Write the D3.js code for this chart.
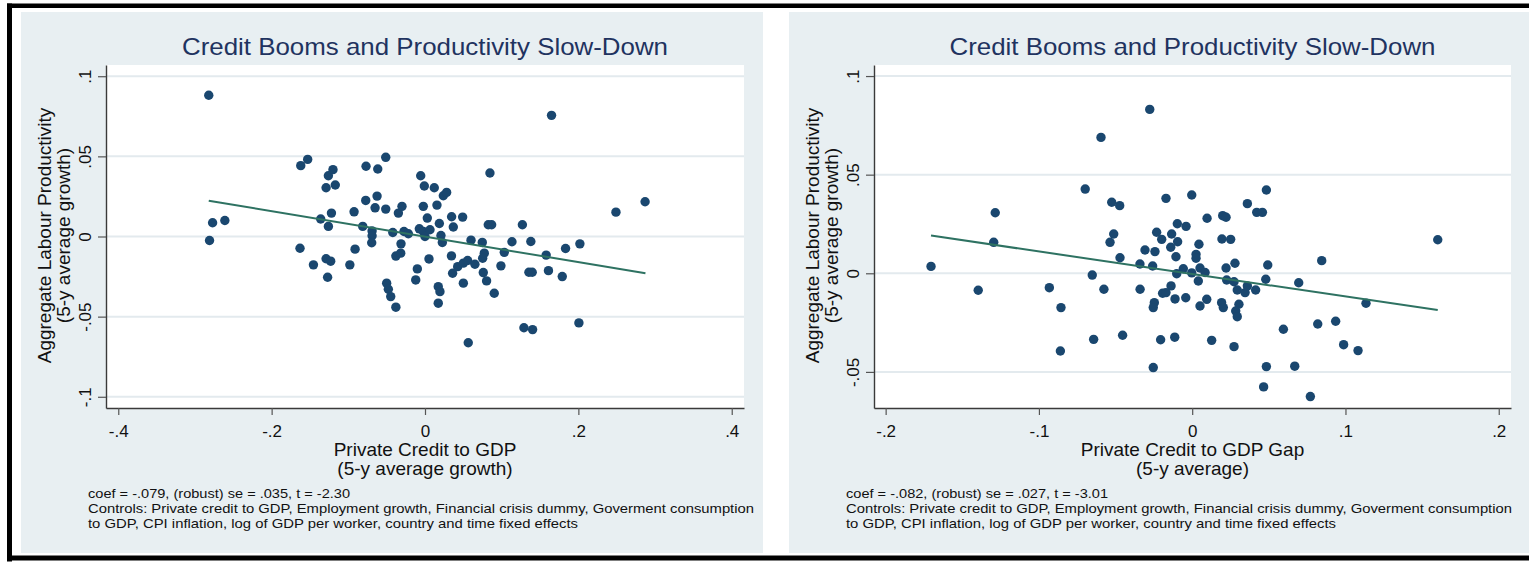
<!DOCTYPE html>
<html>
<head>
<meta charset="utf-8">
<script src="https://cdn.jsdelivr.net/npm/d3@7"></script>
<style>
  html, body { margin: 0; padding: 0; background: #ffffff; }
  svg { display: block; font-family: "Liberation Sans", Arial, sans-serif; }
</style>
</head>
<body>
<svg id="chart" width="1529" height="567"></svg>
<script>
// ---------------- DATA ----------------
const chartTitle = "Credit Booms and Productivity Slow-Down";
const yTitle = ["Aggregate Labour Productivity", "(5-y average growth)"];

// Left panel: Private Credit to GDP (5-y average growth)
const leftX = [-0.282,-0.277,-0.261,-0.281,-0.162,-0.153,-0.126,-0.120,-0.129,-0.117,-0.136,-0.122,-0.126,-0.0925,-0.0769,-0.0616,-0.0512,-0.0773,-0.0651,-0.0625,-0.0512,-0.0812,-0.069,-0.069,-0.0695,-0.042,-0.0347,-0.030,-0.163,-0.0912,-0.129,-0.123,-0.1455,-0.098,-0.038,-0.0317,-0.127,-0.050,-0.0478,-0.0447,-0.038,0.165,-0.0056,-0.0009,0.0121,0.0239,0.0282,0.0847,-0.0022,0.0156,0.003,0.0347,0.0491,0.0369,0.0187,0.0825,0.0869,0.127,0.249,0.287,-0.0274,-0.0217,-0.0074,-0.0022,0.0065,0.0,0.0208,0.0226,0.06,0.0747,0.1134,0.138,0.1833,0.202,0.158,0.1034,0.0773,0.0752,0.0345,0.0052,-0.01,-0.0121,0.0173,0.0195,0.0173,0.036,0.0426,0.05,0.0556,0.0651,0.05,0.076,0.0803,0.0903,0.099,0.1355,0.1398,0.161,0.179,0.129,0.1403,0.2007,0.0564,-0.0313];
const leftY = [0.0881,0.0086,0.0100,-0.0025,0.0442,0.0481,0.0379,0.0417,0.0304,0.0321,0.0109,0.0146,0.0063,0.0154,0.0438,0.0421,0.0494,0.0225,0.0179,0.0252,0.0171,0.0063,0.0035,0.0005,-0.0039,0.0025,0.0146,0.0188,-0.0073,-0.0079,-0.0139,-0.0154,-0.0177,-0.0177,-0.0122,-0.0104,-0.0254,-0.0291,-0.0329,-0.0375,-0.0441,0.0756,0.0379,0.0315,0.0304,0.0254,0.0275,0.0396,0.0188,0.0196,0.0115,0.0123,0.0121,0.0059,0.0081,0.0073,0.0073,0.0073,0.0152,0.0217,0.0031,0.0017,0.0048,0.0031,0.0042,0.0,0.0006,-0.0037,-0.0023,-0.0037,-0.0033,-0.0031,-0.0075,-0.0046,-0.0116,-0.0099,-0.0104,-0.0136,-0.0121,-0.014,-0.0202,-0.0271,-0.0313,-0.0344,-0.0416,-0.0229,-0.0188,-0.0166,-0.015,-0.0173,-0.0291,-0.0225,-0.0277,-0.0354,-0.0183,-0.0223,-0.0223,-0.0213,-0.025,-0.0569,-0.0581,-0.0539,-0.0663,-0.0046];
const leftFitX = [-0.282, 0.2875];
const leftFitY = [0.0223, -0.0229];
const leftXTicks = [-0.4, -0.2, 0, 0.2, 0.4];
const leftXTickLabels = ["-.4", "-.2", "0", ".2", ".4"];
const leftYTicks = [-0.1, -0.05, 0, 0.05, 0.1];
const leftYTickLabels = ["-.1", "-.05", "0", ".05", ".1"];
const leftXTitle = ["Private Credit to GDP", "(5-y average growth)"];
const leftNotes = ["coef = -.079, (robust) se = .035, t = -2.30",
  "Controls: Private credit to GDP, Employment growth, Financial crisis dummy, Goverment consumption",
  "to GDP, CPI inflation, log of GDP per worker, country and time fixed effects"];

// Right panel: Private Credit to GDP Gap (5-y average)
const rightX = [-0.1704,-0.1285,-0.1295,-0.0595,-0.0698,-0.0525,-0.0473,-0.0512,-0.0536,-0.0471,-0.0308,-0.0341,-0.0652,-0.0277,-0.0171,-0.0003,0.0484,0.036,0.0421,0.0458,0.0097,0.0199,0.0221,-0.0097,-0.004,-0.0232,-0.0134,-0.0199,-0.0095,-0.014,0.0044,0.0025,0.0025,0.0194,0.0251,-0.0243,-0.0106,0.1602,0.0845,0.0279,0.0221,0.0493,-0.0258,-0.0058,-0.0101,-0.0003,0.0051,0.0084,0.004,0.0225,0.0273,0.048,0.0695,0.0294,0.0345,0.036,0.0414,-0.0138,-0.0193,-0.0171,-0.0112,-0.0042,0.0095,0.0051,0.0192,0.0203,0.0305,0.0284,0.0294,-0.0247,-0.0254,-0.034,0.1134,0.0819,0.0936,0.0595,-0.0206,-0.0114,0.0127,0.0273,0.0988,0.1082,-0.0254,0.0484,0.0669,0.0466,0.0771,-0.1396,-0.0932,-0.0856,-0.086,-0.0576,-0.0643,-0.0454];
const rightY = [0.0035,0.0307,0.0157,0.0689,0.0427,0.036,0.0343,0.0199,0.0157,0.0079,0.0118,0.0047,-0.0009,0.0831,0.038,0.0397,0.0422,0.0353,0.0309,0.0309,0.0279,0.0292,0.0284,0.0251,0.0238,0.0208,0.0199,0.0172,0.016,0.0132,0.0147,0.0096,0.0076,0.0174,0.0172,0.011,0.0084,0.017,0.0064,0.0051,0.0027,0.0042,0.0037,0.0023,-0.0002,0.0002,0.0027,0.0004,-0.0039,-0.0034,-0.0043,-0.003,-0.0048,-0.0085,-0.0098,-0.0064,-0.0085,-0.0064,-0.0101,-0.0098,-0.013,-0.0124,-0.0132,-0.0166,-0.0149,-0.0174,-0.0157,-0.0191,-0.022,-0.0149,-0.0174,-0.0081,-0.0152,-0.0257,-0.0243,-0.0284,-0.0337,-0.0324,-0.034,-0.0372,-0.0362,-0.0392,-0.0478,-0.0473,-0.0471,-0.0576,-0.0625,-0.0086,-0.0073,-0.0174,-0.0394,-0.0081,-0.0335,-0.0314];
const rightFitX = [-0.1704, 0.1602];
const rightFitY = [0.0191, -0.0186];
const rightXTicks = [-0.2, -0.1, 0, 0.1, 0.2];
const rightXTickLabels = ["-.2", "-.1", "0", ".1", ".2"];
const rightYTicks = [-0.05, 0, 0.05, 0.1];
const rightYTickLabels = ["-.05", "0", ".05", ".1"];
const rightXTitle = ["Private Credit to GDP Gap", "(5-y average)"];
const rightNotes = ["coef = -.082, (robust) se = .027, t = -3.01",
  "Controls: Private credit to GDP, Employment growth, Financial crisis dummy, Goverment consumption",
  "to GDP, CPI inflation, log of GDP per worker, country and time fixed effects"];

// ---------------- STYLE ----------------
const C = {
  panelBg: "#e8eff2",
  plotBg: "#ffffff",
  grid: "#e3eaee",
  marker: "#1a476f",
  fit: "#2e7262",
  title: "#1f3360",
  axis: "#3a3a3a",
  text: "#111111"
};

const svg = d3.select("#chart");

// outer frame
svg.append("rect").attr("x", 7).attr("y", 3.5).attr("width", 1530).attr("height", 4.5).attr("fill", "#000");
svg.append("rect").attr("x", 7).attr("y", 3.5).attr("width", 5).attr("height", 558).attr("fill", "#000");
svg.append("rect").attr("x", 7).attr("y", 555.5).attr("width", 1530).attr("height", 5).attr("fill", "#000");

function drawPanel(cfg) {
  const g = svg.append("g");
  g.append("rect").attr("x", cfg.bg[0]).attr("y", cfg.bg[1]).attr("width", cfg.bg[2]).attr("height", cfg.bg[3]).attr("fill", C.panelBg);

  const x = d3.scaleLinear().domain(cfg.xDomain).range([cfg.plot.x0, cfg.plot.x1]);
  const y = d3.scaleLinear().domain(cfg.yDomain).range([cfg.plot.y1, cfg.plot.y0]);

  g.append("rect").attr("x", cfg.plot.x0).attr("y", cfg.plot.y0)
    .attr("width", cfg.plot.x1 - cfg.plot.x0).attr("height", cfg.plot.y1 - cfg.plot.y0)
    .attr("fill", C.plotBg);

  // gridlines
  g.append("g").selectAll("line").data(cfg.yTicks).join("line")
    .attr("x1", cfg.plot.x0).attr("x2", cfg.plot.x1)
    .attr("y1", d => y(d)).attr("y2", d => y(d))
    .attr("stroke", C.grid).attr("stroke-width", 2);

  // points
  const pts = cfg.xs.map((v, i) => [v, cfg.ys[i]]);
  g.append("g").selectAll("circle").data(pts).join("circle")
    .attr("cx", d => x(d[0])).attr("cy", d => y(d[1])).attr("r", 4.7)
    .attr("fill", C.marker);

  // fit line
  const fit = cfg.fitX.map((v, i) => [v, cfg.fitY[i]]);
  g.append("path").datum(fit)
    .attr("d", d3.line().x(d => x(d[0])).y(d => y(d[1])))
    .attr("fill", "none").attr("stroke", C.fit).attr("stroke-width", 2);

  // y axis
  const yAxis = d3.axisLeft(y).tickValues(cfg.yTicks)
    .tickFormat((d, i) => cfg.yLabels[i]).tickSize(8).tickSizeOuter(0);
  const ya = g.append("g").attr("transform", `translate(${cfg.plot.x0},0)`).call(yAxis);
  ya.select(".domain").attr("stroke", C.axis).attr("stroke-width", 1.4);
  ya.selectAll(".tick line").attr("stroke", "#555").attr("stroke-width", 1.2);
  ya.selectAll(".tick text")
    .attr("x", null).attr("dy", null).attr("y", null)
    .attr("transform", "translate(-15,0) rotate(-90)")
    .attr("text-anchor", "middle")
    .attr("fill", C.text)
    .style("font-size", "17px").style("font-family", "'Liberation Sans', Arial, sans-serif");

  // x axis
  const xAxis = d3.axisBottom(x).tickValues(cfg.xTicks)
    .tickFormat((d, i) => cfg.xLabels[i]).tickSize(7).tickSizeOuter(0);
  const xa = g.append("g").attr("transform", `translate(0,${cfg.plot.y1})`).call(xAxis);
  xa.select(".domain").attr("stroke", C.axis).attr("stroke-width", 1.4);
  xa.selectAll(".tick line").attr("stroke", "#555").attr("stroke-width", 1.2);
  xa.selectAll(".tick text")
    .attr("y", 29).attr("dy", null)
    .attr("fill", C.text)
    .style("font-size", "17px").style("font-family", "'Liberation Sans', Arial, sans-serif");

  const cx = (cfg.plot.x0 + cfg.plot.x1) / 2;
  const cy = (cfg.plot.y0 + cfg.plot.y1) / 2;

  // title
  g.append("text").attr("x", cx).attr("y", 55).attr("text-anchor", "middle")
    .attr("fill", C.title).style("font-size", "24px")
    .attr("textLength", 486).attr("lengthAdjust", "spacingAndGlyphs")
    .text(chartTitle);

  // y title (rotated)
  yTitle.forEach((t, i) => {
    g.append("text")
      .attr("transform", `translate(${cfg.plot.x0 - 55 + i * 19},${cy - 1}) rotate(-90)`)
      .attr("text-anchor", "middle").attr("fill", C.text)
      .style("font-size", "19px").text(t);
  });

  // x title
  cfg.xTitle.forEach((t, i) => {
    g.append("text").attr("x", cx).attr("y", 456 + i * 19)
      .attr("text-anchor", "middle").attr("fill", C.text)
      .style("font-size", "19px").text(t);
  });

  // notes
  const noteW = [262, 666, 490];
  cfg.notes.forEach((t, i) => {
    g.append("text").attr("x", cfg.noteX).attr("y", 497.5 + i * 15)
      .attr("fill", C.text).style("font-size", "13.5px")
      .attr("textLength", noteW[i]).attr("lengthAdjust", "spacingAndGlyphs")
      .text(t);
  });
}

drawPanel({
  bg: [21, 12, 742, 541],
  plot: { x0: 106, x1: 744, y0: 65, y1: 408 },
  xDomain: [-0.416, 0.416], yDomain: [-0.107, 0.107],
  xs: leftX, ys: leftY, fitX: leftFitX, fitY: leftFitY,
  xTicks: leftXTicks, xLabels: leftXTickLabels,
  yTicks: leftYTicks, yLabels: leftYTickLabels,
  xTitle: leftXTitle, notes: leftNotes, noteX: 88
});

drawPanel({
  bg: [789, 12, 745, 541],
  plot: { x0: 874, x1: 1511, y0: 65, y1: 408 },
  xDomain: [-0.2076, 0.208], yDomain: [-0.0683, 0.1056],
  xs: rightX, ys: rightY, fitX: rightFitX, fitY: rightFitY,
  xTicks: rightXTicks, xLabels: rightXTickLabels,
  yTicks: rightYTicks, yLabels: rightYTickLabels,
  xTitle: rightXTitle, notes: rightNotes, noteX: 846
});
</script>
</body>
</html>
